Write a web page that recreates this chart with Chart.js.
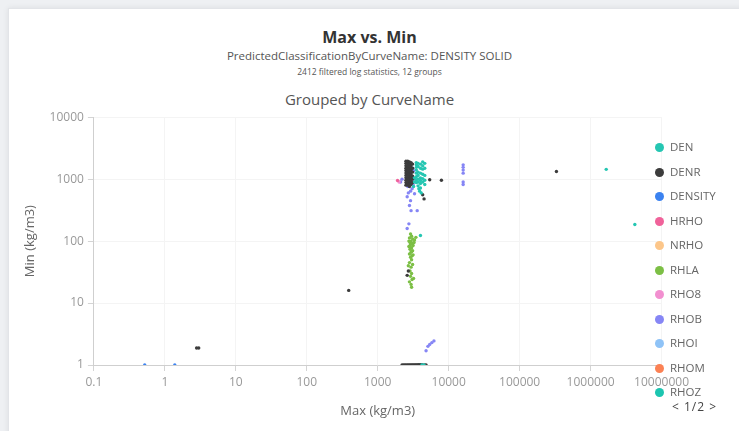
<!DOCTYPE html>
<html><head><meta charset="utf-8">
<script src="https://cdn.jsdelivr.net/npm/chart.js@4"></script>
<style>
html,body{margin:0;padding:0;background:#eef0f3;width:739px;height:431px;overflow:hidden;font-family:"Open Sans",sans-serif;}
#card{position:absolute;left:8px;top:8px;width:740px;height:430px;background:#fff;border:1px solid #e2e4e8;box-shadow:0 0 6px rgba(0,0,0,0.08);}
.h{position:absolute;left:0;width:739px;text-align:center;white-space:nowrap;}
#t1{top:26px;font-size:16px;font-weight:700;color:#333;}
#t2{top:48px;font-size:11.5px;color:#555;}
#t3{top:66px;font-size:8.5px;color:#555;}
#t4{top:89px;font-size:15px;color:#555;}
#wrap{position:absolute;left:8px;top:106px;width:685px;height:319px;}
#legend{position:absolute;left:655px;top:139px;font-size:11.5px;color:#666;}
.li{height:24.5px;line-height:16px;white-space:nowrap;}
.dot{display:inline-block;width:9px;height:9px;border-radius:50%;margin-right:6px;vertical-align:-1px;}
#pager{position:absolute;left:672px;top:398px;font-size:12px;color:#444;letter-spacing:1px;}
</style></head>
<body>
<div id="card"></div>
<div class="h" id="t1">Max vs. Min</div>
<div class="h" id="t2">PredictedClassificationByCurveName: DENSITY SOLID</div>
<div class="h" id="t3">2412 filtered log statistics, 12 groups</div>
<div class="h" id="t4">Grouped by CurveName</div>
<div id="wrap"><canvas id="c"></canvas></div>
<div id="legend"></div>
<div id="pager">&lt; 1/2 &gt;</div>
<script>
const seriesNames = ["DEN","DENR","DENSITY","HRHO","NRHO","RHLA","RHO8","RHOB","RHOI","RHOM","RHOZ"];
const seriesColors = ["#25c6b2","#3c3c3c","#3b82f0","#f0629a","#fcc68a","#7cbf45","#f28fd0","#8686f5","#8fc3f7","#fb8154","#1cc5b0"];
const xTicks = [0.1,1,10,100,1000,10000,100000,1000000,10000000];
const yTicks = [1,10,100,1000,10000];

const DEN = [[3500,1850],[3500,1700],[3500,1550],[3500,1400],[3500,1250],[3500,1100],[3500,980],[3500,880],
 [3700,1800],[3700,1600],[3700,1300],[3700,1150],[3700,1000],[3700,900],[3700,780],
 [4000,1750],[4000,1500],[4000,1250],[4000,1050],[4000,950],[4000,850],[4000,720],
 [4300,1900],[4300,1650],[4300,1450],[4300,1200],[4300,1020],[4300,900],
 [4600,1800],[4600,1500],[4600,1150],[4600,960],[4600,820],
 [3300,1050],[3300,900],[3200,760],[3900,640],[4100,600],[3800,700],
 [4000,123],[1660000,1440],[4200000,185],[4200,1],[4500,1]];
const DENR = [[2500,1950],[2500,1800],[2500,1650],[2500,1500],[2500,1380],[2500,1260],[2500,1150],[2500,1050],[2500,960],[2500,880],[2500,800],
 [2650,1950],[2650,1800],[2650,1650],[2650,1500],[2650,1380],[2650,1260],[2650,1150],[2650,1050],[2650,960],[2650,880],[2650,800],
 [2800,1900],[2800,1750],[2800,1600],[2800,1450],[2800,1320],[2800,1200],[2800,1100],[2800,1000],[2800,920],[2800,840],[2800,760],
 [2950,1850],[2950,1700],[2950,1550],[2950,1400],[2950,1280],[2950,1180],[2950,1080],[2950,980],[2950,900],[2950,820],
 [3100,1750],[3100,1500],[3100,1300],[3100,1120],[3100,1000],[3100,880],
 [2200,1],[2300,1],[2400,1],[2500,1],[2600,1],[2700,1],[2800,1],[2900,1],[3000,1],[3100,1],[3200,1],[3300,1],
 [3400,1],[3500,1],[3600,1],[3700,1],[3800,1],[3900,1],[4000,1],[4100,1],[4300,1],[4600,1],[4800,1],
 [5400,980],[7900,960],[330000,1330],[390,16],[2.8,1.88],[3.0,1.88],[4500,480],[2700,33],[2600,28],[4300,560]];
const DENSITY = [[0.52,1],[1.38,1],[2900,1300],[3000,1000],[2800,1600]];
const HRHO = [[1900,950]];
const NRHO = [];
const RHLA = [[2900,130],[3000,120],[2800,112],[3100,108],[2950,100],[3300,104],[3450,115],[2850,95],[3050,92],[2900,88],
 [3150,85],[2750,82],[3000,78],[2850,74],[3100,70],[2950,66],[2800,62],[3050,58],[2900,55],[3000,50],
 [2800,45],[3100,42],[2950,38],[2850,33],[3000,30],[2900,27],[3050,24],[2800,22],[2950,20],[3000,18],
 [3200,25],[2700,40],[3150,60],[2750,100],[3250,95],[2850,80],[3000,68]];
const RHO8 = [[2000,900]];
const RHOB = [[2700,1750],[2900,1600],[3100,1500],[3200,1350],[2750,1200],[3000,1100],[3250,1000],[2850,900],[3150,820],
 [2650,760],[3050,700],[2900,640],[2700,600],[3300,580],[2600,520],[2900,450],[2800,375],[2950,310],[3600,310],
 [2750,190],[2600,160],[16000,1700],[16000,1550],[16000,1400],[16000,1250],[16000,900],[16000,820],
 [5100,2.0],[5400,2.15],[5800,2.3],[6200,2.45],[4800,1.7],[2200,1000],[2100,900]];
const RHOI = [[3200,1400]];
const RHOM = [];
const RHOZ = [[3800,1],[4100,1]];
const seriesData = [DEN,DENR,DENSITY,HRHO,NRHO,RHLA,RHO8,RHOB,RHOI,RHOM,RHOZ];

const datasets = seriesNames.map((n,i)=>({
  label:n,
  data:seriesData[i].map(p=>({x:p[0],y:p[1]})),
  backgroundColor:seriesColors[i],
  borderColor:seriesColors[i],
  pointRadius:1.7,
  pointBorderWidth:0
}));

const lg = document.getElementById('legend');
seriesNames.forEach((n,i)=>{
  const d=document.createElement('div');d.className='li';
  d.innerHTML='<span class="dot" style="background:'+seriesColors[i]+'"></span>'+n;
  lg.appendChild(d);
});

const axisCommon = {
  grid:{color:'#f4f4f4',tickColor:'#d4d4d4',tickLength:6},
  border:{color:'#cfcfcf'},
  ticks:{color:'#999',font:{family:'Open Sans',size:12},padding:4,autoSkip:false,maxRotation:0,
    callback:(v)=>String(v)}
};
new Chart(document.getElementById('c'),{
  type:'scatter',
  data:{datasets},
  options:{
    responsive:true,maintainAspectRatio:false,animation:false,
    layout:{padding:{left:14,right:0,top:5,bottom:6}},
    plugins:{legend:{display:false},tooltip:{enabled:false}},
    scales:{
      x:Object.assign({},axisCommon,{type:'logarithmic',min:0.1,max:10000000,
        afterBuildTicks:s=>{s.ticks=xTicks.map(v=>({value:v}));},
        title:{display:true,text:'Max (kg/m3)',color:'#666',font:{family:'Open Sans',size:13},padding:{top:10,bottom:0}}}),
      y:Object.assign({},axisCommon,{type:'logarithmic',min:1,max:10000,
        afterBuildTicks:s=>{s.ticks=yTicks.map(v=>({value:v}));},
        title:{display:true,text:'Min (kg/m3)',color:'#666',font:{family:'Open Sans',size:13},padding:{top:0,bottom:8}}})
    }
  }
});
</script>
</body></html>
